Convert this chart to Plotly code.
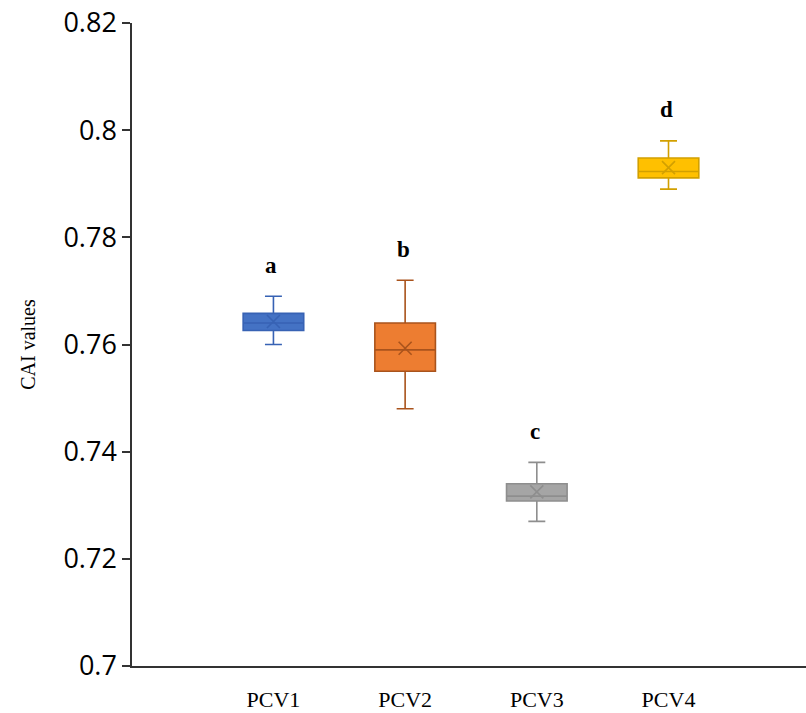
import plotly.graph_objects as go

# Five-number summaries and means of CAI per group
groups = ["PCV1", "PCV2", "PCV3", "PCV4"]
lower_whisker = [0.760, 0.748, 0.727, 0.789]
q1_values = [0.7626, 0.7550, 0.7308, 0.7911]
median_values = [0.7640, 0.7590, 0.7317, 0.7923]
q3_values = [0.7658, 0.7640, 0.7340, 0.7948]
upper_whisker = [0.769, 0.772, 0.738, 0.798]
mean_values = [0.7643, 0.7593, 0.7325, 0.7930]
letters = ["a", "b", "c", "d"]

fill_colors = ["#4472C4", "#ED7D31", "#A5A5A5", "#FFC000"]
line_colors = ["#3762B4", "#A9531C", "#8E8E8E", "#D2A000"]

positions = list(range(len(groups)))

fig = go.Figure()

for i, g in enumerate(groups):
    fig.add_trace(go.Box(
        x=[positions[i]],
        q1=[q1_values[i]], median=[median_values[i]], q3=[q3_values[i]],
        lowerfence=[lower_whisker[i]], upperfence=[upper_whisker[i]],
        fillcolor=fill_colors[i],
        line=dict(color=line_colors[i], width=1.6),
        width=0.46, whiskerwidth=0.28,
        boxpoints=False, showlegend=False, name=g,
    ))
    fig.add_trace(go.Scatter(
        x=[positions[i]], y=[mean_values[i]], mode="markers",
        marker=dict(symbol="x-thin-open", size=13, color=line_colors[i],
                    line=dict(color=line_colors[i], width=1.6)),
        showlegend=False, hoverinfo="skip",
    ))
    fig.add_annotation(
        x=positions[i], y=upper_whisker[i], text="<b>" + letters[i] + "</b>",
        showarrow=False, yshift=31, xshift=-2,
        font=dict(family="Liberation Serif", size=23, color="black"),
    )

fig.update_layout(
    width=806, height=713,
    margin=dict(l=132, r=0, t=23, b=47),
    paper_bgcolor="white", plot_bgcolor="white",
)

fig.update_xaxes(
    range=[-1.074, 4.044], automargin=False,
    tickmode="array", tickvals=positions, ticktext=groups,
    showgrid=False, zeroline=False,
    showline=True, linecolor="#333333", linewidth=1.5,
    ticks="", ticklabelstandoff=13,
    tickfont=dict(family="Liberation Serif", size=22, color="black"),
)

fig.update_yaxes(
    range=[0.7, 0.82], automargin=False,
    tickvals=[0.70, 0.72, 0.74, 0.76, 0.78, 0.80, 0.82],
    ticktext=["0.7", "0.72", "0.74", "0.76", "0.78", "0.8", "0.82"],
    showgrid=False, zeroline=False,
    showline=True, linecolor="#333333", linewidth=1.5,
    ticks="outside", ticklen=8, tickwidth=1.5, tickcolor="#333333",
    tickfont=dict(family="Open Sans", size=27, color="black"),
    title=dict(text="CAI values", standoff=22,
               font=dict(family="Liberation Serif", size=20, color="black")),
)

fig.write_html("out.html")
